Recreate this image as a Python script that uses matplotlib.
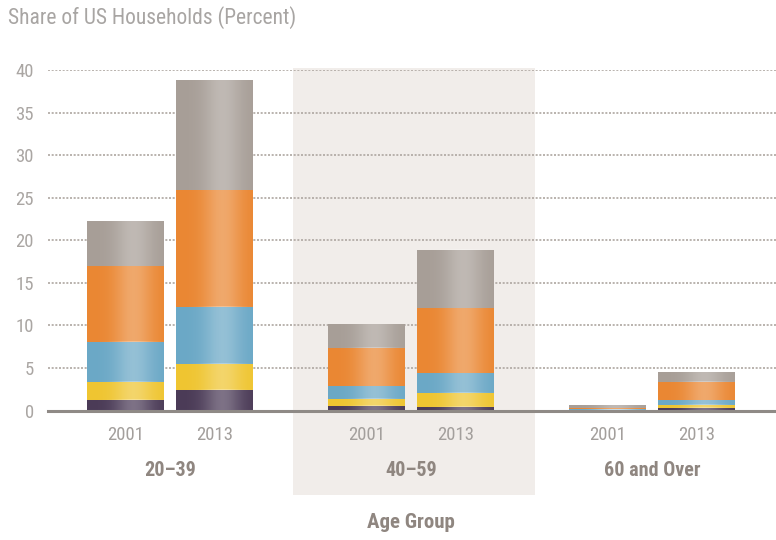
import numpy as np
import matplotlib
matplotlib.use("Agg")
import matplotlib.pyplot as plt
from matplotlib import font_manager
from matplotlib.patches import Rectangle
import matplotlib.transforms as mtransforms

# Data: share of US households (percent) by age group and year
age_groups = ["20\u201339", "40\u201359", "60 and Over"]
years = ["2001", "2013"]
segment_names = ["Segment A", "Segment B", "Segment C", "Segment D", "Segment E"]
# stacked from bottom to top, per bar order: (20-39,2001), (20-39,2013), (40-59,2001), (40-59,2013), (60+,2001), (60+,2013)
seg_purple = [1.2, 2.4, 0.5, 0.4, 0.05, 0.25]
seg_yellow = [2.2, 3.1, 0.9, 1.7, 0.05, 0.4]
seg_blue = [4.7, 6.7, 1.5, 2.3, 0.1, 0.55]
seg_orange = [8.9, 13.7, 4.5, 7.6, 0.1, 2.2]
seg_gray = [5.3, 12.9, 2.8, 6.9, 0.4, 1.1]

colors = ["#4b3b57", "#efc531", "#6ba8c6", "#ea8733", "#a79e97"]

# prefer a condensed sans face if one is installed
fonts = font_manager.fontManager.ttflist
cond = None
for pref in ["Roboto Condensed", "Liberation Sans Narrow", "Open Sans Condensed"]:
    if any(f.name == pref for f in fonts):
        cond = (pref, "normal")
        break
if cond is None:
    for f in fonts:
        st = str(f.stretch).lower()
        if "condensed" in st or "narrow" in f.name.lower() or "condensed" in f.name.lower():
            cond = (f.name, f.stretch)
            break
if cond is None:
    cond = ("DejaVu Sans", "normal")
plt.rcParams["font.family"] = [cond[0], "DejaVu Sans"]
plt.rcParams["font.stretch"] = cond[1]

fig = plt.figure(figsize=(7.76, 5.40), dpi=100)
ax = fig.add_axes([48 / 776, (540 - 410.5) / 540, 728 / 776, 340.5 / 540])

offset = 0.185
width = 0.32
xs = []
for g in range(len(age_groups)):
    for k in range(len(years)):
        xs.append(g + (-offset if k == 0 else offset))
xs = np.array(xs)

# shaded background behind the middle group
blend = mtransforms.blended_transform_factory(ax.transData, fig.transFigure)
shade = Rectangle((0.51, (540 - 495) / 540), 1.005, (495 - 68) / 540,
                  transform=blend, facecolor="#f1edea", edgecolor="none",
                  zorder=0, clip_on=False)
ax.add_patch(shade)

# dotted gridlines
for yv in range(5, 45, 5):
    ax.axhline(yv, color="#aea7a1", lw=1.2, ls=(0, (1.2, 1.0)), zorder=1)

segments = [seg_purple, seg_yellow, seg_blue, seg_orange, seg_gray]
bottom = np.zeros(len(xs))
grad = np.linspace(0, 1, 64)
# soft cylindrical shading across each bar
shade_alpha = 0.28 * np.exp(-((grad - 0.6) ** 2) / 0.06)
for vals, col, name in zip(segments, colors, segment_names):
    vals = np.array(vals)
    ax.bar(xs, vals, width=width, bottom=bottom, color=col, label=name,
           zorder=2, linewidth=0)
    for x0, b, h in zip(xs, bottom, vals):
        if h <= 0:
            continue
        img = np.ones((1, 64, 4))
        img[0, :, 3] = shade_alpha
        ax.imshow(img, extent=(x0 - width / 2, x0 + width / 2, b, b + h),
                  aspect="auto", zorder=3, interpolation="bilinear")
    bottom = bottom + vals

ax.set_xlim(-0.506, 2.515)
ax.set_ylim(0, 40)

# baseline
ax.axhline(0, color="#8f8a86", lw=2.2, zorder=4, clip_on=False)

for s in ax.spines.values():
    s.set_visible(False)
ax.set_yticks(range(0, 45, 5))
ax.set_yticklabels([str(v) for v in range(0, 45, 5)], color="#aaa6a3", fontsize=13.5)
ax.tick_params(axis="y", length=0, pad=10)
ax.set_xticks(xs)
ax.set_xticklabels(years * len(age_groups), color="#a39f9c", fontsize=13.5)
ax.tick_params(axis="x", length=0, pad=11)

trans_lbl = mtransforms.blended_transform_factory(ax.transData, fig.transFigure)
for g, name in enumerate(age_groups):
    ax.text(g, (540 - 471) / 540, name, transform=trans_lbl, ha="center",
            va="center", fontsize=14.5, fontweight="bold", color="#8f8680")
fig.text(411 / 776, (540 - 523) / 540, "Age Group", ha="center", va="center",
         fontsize=15, fontweight="bold", color="#8f8680")
fig.text(8 / 776, (540 - 18) / 540, "Share of US Households (Percent)",
         ha="left", va="center", fontsize=15.5, color="#a8a5a3")

fig.savefig("out.png", dpi=100)
